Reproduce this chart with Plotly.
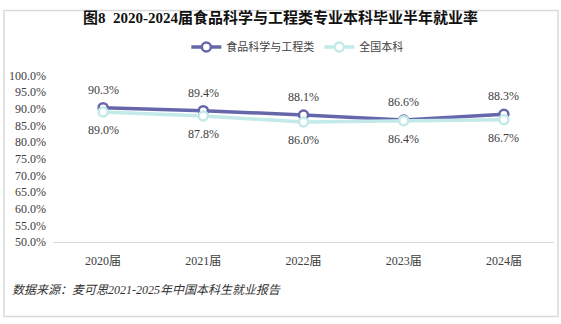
import plotly.graph_objects as go

# Graduating cohorts and half-year employment rates (%)
years = ["2020届", "2021届", "2022届", "2023届", "2024届"]
food_science = [90.3, 89.4, 88.1, 86.6, 88.3]
national = [89.0, 87.8, 86.0, 86.4, 86.7]
series_names = ["食品科学与工程类", "全国本科"]
y_ticks = [50, 55, 60, 65, 70, 75, 80, 85, 90, 95, 100]

SERIF = "Liberation Serif, Noto Sans CJK SC, serif"
C_FOOD = "#6667AB"
C_NAT = "#C3EAE9"
TXT = "#404040"

fig = go.Figure()

for name, vals, color in [(series_names[0], food_science, C_FOOD),
                          (series_names[1], national, C_NAT)]:
    fig.add_trace(go.Scatter(
        x=years, y=vals, name=name, mode="lines+markers",
        line=dict(color=color, width=3.5),
        marker=dict(symbol="circle", size=9, color="white",
                    line=dict(color=color, width=2.5)),
        hoverinfo="skip",
    ))

# value labels: main series above, national average below
annotations = []
for x, v in zip(years, food_science):
    annotations.append(dict(x=x, y=v, xref="x", yref="y", text=f"{v:.1f}%",
                            showarrow=False, yshift=18,
                            font=dict(family=SERIF, size=12, color=TXT)))
for x, v in zip(years, national):
    annotations.append(dict(x=x, y=v, xref="x", yref="y", text=f"{v:.1f}%",
                            showarrow=False, yshift=-18,
                            font=dict(family=SERIF, size=12, color=TXT)))

# data source note
annotations.append(dict(x=-0.0858, y=-0.288, xref="paper", yref="paper",
                        xanchor="left", yanchor="middle", showarrow=False,
                        text="<i>数据来源：麦可思2021-2025年中国本科生就业报告</i>",
                        font=dict(family=SERIF, size=12, color="#333333")))

fig.update_layout(
    width=561, height=324,
    margin=dict(l=53, r=7, t=72, b=82),
    paper_bgcolor="white", plot_bgcolor="white",
    title=dict(text="<b>图8  2020-2024届食品科学与工程类专业本科毕业半年就业率</b>",
               x=0.5, xref="container", xanchor="center",
               y=1 - 18 / 324, yref="container", yanchor="middle",
               font=dict(family=SERIF, size=15, color="#111111")),
    legend=dict(orientation="h", xref="container", x=0.53, xanchor="center",
                yref="container", y=1 - 47 / 324, yanchor="middle",
                font=dict(family=SERIF, size=11, color=TXT),
                itemwidth=30, tracegroupgap=0, bgcolor="rgba(0,0,0,0)"),
    xaxis=dict(type="category", range=[-0.5, 4.5], showgrid=False,
               showline=True, linecolor="#D9D9D9", linewidth=1,
               ticks="", ticklabelstandoff=8, zeroline=False,
               tickfont=dict(family=SERIF, size=12, color=TXT)),
    yaxis=dict(range=[50, 100], tickvals=y_ticks,
               ticktext=[f"{t:.1f}%" for t in y_ticks],
               showgrid=False, showline=False, zeroline=False,
               ticks="", ticklabelstandoff=6,
               tickfont=dict(family=SERIF, size=12, color=TXT)),
    annotations=annotations,
    shapes=[dict(type="rect", xref="paper", yref="paper",
                 x0=-0.0978, x1=1.008, y0=-0.447, y1=1.388,
                 line=dict(color="#D9D9D9", width=1.5), fillcolor="rgba(0,0,0,0)",
                 layer="below")],
    showlegend=True,
)

fig.write_html("out.html")
